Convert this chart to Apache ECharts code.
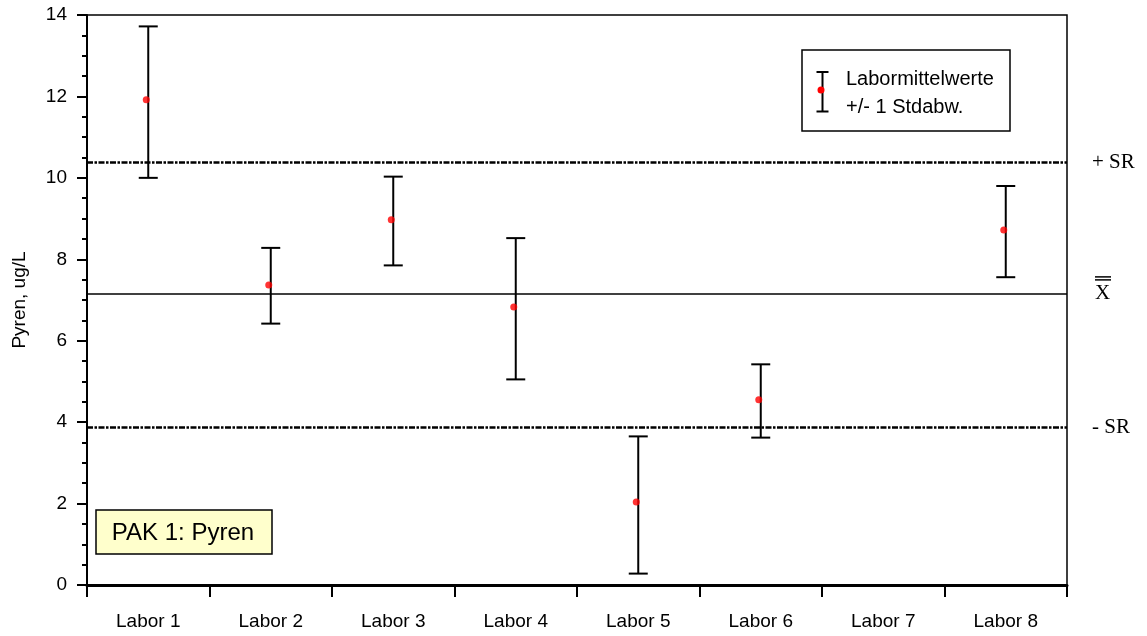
<!DOCTYPE html>
<html><head><meta charset="utf-8">
<script src="https://cdn.jsdelivr.net/npm/echarts@6/dist/echarts.min.js"></script>
<style>html,body{margin:0;padding:0;background:#fff}#c{width:1147px;height:636px}</style>
</head><body><div id="c"></div>
<script>
const categories = ['Labor 1','Labor 2','Labor 3','Labor 4','Labor 5','Labor 6','Labor 7','Labor 8'];
const means = [11.92, 7.37, 8.97, 6.83, 2.04, 4.55, null, 8.72];
const upper = [13.72, 8.28, 10.03, 8.52, 3.65, 5.42, null, 9.80];
const lower = [10.00, 6.42, 7.85, 5.05, 0.28, 3.62, null, 7.56];
const grandMean = 7.15;
const plusSR = 10.38;
const minusSR = 3.88;
const yTicks = [0, 2, 4, 6, 8, 10, 12, 14];

const chart = echarts.init(document.getElementById('c'), null, {renderer: 'canvas'});
const errData = categories.map((c, i) => [i, lower[i], upper[i]]).filter(d => d[1] != null);
const meanData = categories.map((c, i) => [i, means[i]]).filter(d => d[1] != null);
const FONT = 'Liberation Sans, Arial, sans-serif';
const SERIF = 'Liberation Serif, Times New Roman, serif';
const SR_DASH = [6, 1.5, 2.5, 1.5];

const option = {
  animation: false,
  grid: {left: 87, right: 80, top: 15, bottom: 51, show: true, borderColor: '#000', borderWidth: 1.5},
  xAxis: {
    type: 'category', data: categories, boundaryGap: true,
    axisLine: {lineStyle: {color: '#000', width: 3}},
    axisTick: {show: true, length: 12, lineStyle: {color: '#000', width: 2}},
    axisLabel: {color: '#000', fontSize: 19, fontFamily: FONT, margin: 27},
    splitLine: {show: false}
  },
  yAxis: {
    type: 'value', min: 0, max: 14, interval: 2,
    name: 'Pyren, ug/L', nameLocation: 'middle', nameGap: 58,
    nameTextStyle: {color: '#000', fontSize: 19, fontFamily: FONT},
    axisLine: {show: true, lineStyle: {color: '#000', width: 2}},
    axisTick: {show: true, length: 10, lineStyle: {color: '#000', width: 2}},
    minorTick: {show: true, splitNumber: 4, length: 5, lineStyle: {color: '#000', width: 2}},
    axisLabel: {color: '#000', fontSize: 19, fontFamily: FONT, margin: 20,
      formatter: v => yTicks.includes(v) ? String(v) : ''},
    splitLine: {show: false}
  },
  series: [
    {
      type: 'custom', data: errData, z: 3,
      renderItem: function (params, api) {
        const x = api.value(0);
        const lo = api.coord([x, api.value(1)]);
        const hi = api.coord([x, api.value(2)]);
        const hw = 9.5;
        const st = {stroke: '#000', lineWidth: 2};
        return {type: 'group', children: [
          {type: 'line', shape: {x1: lo[0], y1: lo[1], x2: hi[0], y2: hi[1]}, style: st},
          {type: 'line', shape: {x1: lo[0] - hw, y1: lo[1], x2: lo[0] + hw, y2: lo[1]}, style: st},
          {type: 'line', shape: {x1: hi[0] - hw, y1: hi[1], x2: hi[0] + hw, y2: hi[1]}, style: st}
        ]};
      }
    },
    {
      type: 'scatter', data: meanData, z: 5, symbol: 'circle', symbolSize: 7,
      symbolOffset: [-2, 0],
      itemStyle: {color: '#ff0000'},
      markLine: {
        silent: true, symbol: 'none',
        label: {show: true, position: 'end', distance: 25, color: '#000', fontFamily: SERIF, fontSize: 21},
        data: [
          {yAxis: plusSR, lineStyle: {color: '#000', width: 2.5, type: SR_DASH}, label: {formatter: '+ SR'}},
          {yAxis: grandMean, lineStyle: {color: '#000', width: 1.5, type: 'solid'}, label: {formatter: 'X', distance: 28}},
          {yAxis: minusSR, lineStyle: {color: '#000', width: 2.5, type: SR_DASH}, label: {formatter: '- SR'}}
        ]
      }
    }
  ]
};
chart.setOption(option);

const yM = chart.convertToPixel({yAxisIndex: 0}, grandMean);
chart.setOption({
  graphic: [
    // double bar over X
    {type: 'line', shape: {x1: 1095, y1: yM - 17, x2: 1111, y2: yM - 17}, style: {stroke: '#000', lineWidth: 1.5}},
    {type: 'line', shape: {x1: 1095, y1: yM - 14, x2: 1111, y2: yM - 14}, style: {stroke: '#000', lineWidth: 1.5}},
    // legend box
    {type: 'rect', shape: {x: 802, y: 50, width: 208, height: 81}, style: {fill: '#fff', stroke: '#000', lineWidth: 1.5}, z: 10},
    {type: 'line', shape: {x1: 822.5, y1: 72, x2: 822.5, y2: 111.5}, style: {stroke: '#000', lineWidth: 2}, z: 11},
    {type: 'line', shape: {x1: 816.5, y1: 72, x2: 828.5, y2: 72}, style: {stroke: '#000', lineWidth: 2}, z: 11},
    {type: 'line', shape: {x1: 816.5, y1: 111.5, x2: 828.5, y2: 111.5}, style: {stroke: '#000', lineWidth: 2}, z: 11},
    {type: 'circle', shape: {cx: 821, cy: 90, r: 3.5}, style: {fill: '#ff0000'}, z: 12},
    {type: 'text', x: 846, y: 79, style: {text: 'Labormittelwerte', font: '20px ' + FONT, fill: '#000', textVerticalAlign: 'middle'}, z: 11},
    {type: 'text', x: 846, y: 107, style: {text: '+/- 1 Stdabw.', font: '20px ' + FONT, fill: '#000', textVerticalAlign: 'middle'}, z: 11},
    // title box
    {type: 'rect', shape: {x: 96, y: 510, width: 176, height: 44}, style: {fill: '#ffffcc', stroke: '#000', lineWidth: 1.5}, z: 10},
    {type: 'text', x: 183, y: 533, style: {text: 'PAK 1: Pyren', font: '24px ' + FONT, fill: '#000', textAlign: 'center', textVerticalAlign: 'middle'}, z: 11}
  ]
});
</script></body></html>
